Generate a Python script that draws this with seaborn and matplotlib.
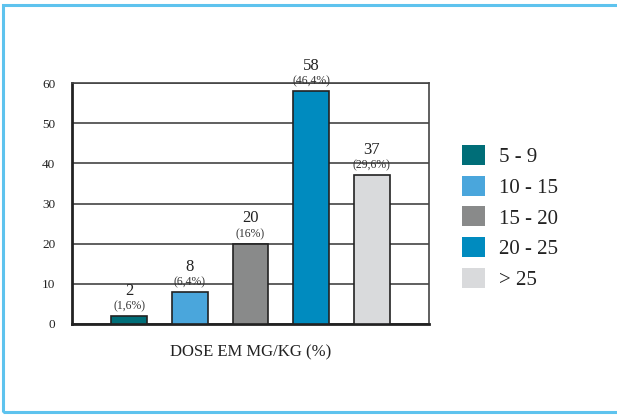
import matplotlib.pyplot as plt
import matplotlib.patches as mpatches
import pandas as pd
import seaborn as sns

categories = ["5 - 9", "10 - 15", "15 - 20", "20 - 25", "> 25"]
counts = [2, 8, 20, 58, 37]
percents = ["(1,6%)", "(6,4%)", "(16%)", "(46,4%)", "(29,6%)"]
colors = ["#006e78", "#4aa6dc", "#898a8a", "#008bbf", "#d9dadc"]

sns.set_theme(style="white")
plt.rcParams["font.family"] = ["Liberation Serif", "DejaVu Serif"]

df = pd.DataFrame({"dose": categories, "n": counts})

fig = plt.figure(figsize=(6.17, 4.18), dpi=100)
ax = fig.add_axes([72/617, 1-324/418, 357/617, 241/418])

sns.barplot(data=df, x="dose", y="n", hue="dose", palette=colors, width=0.59,
            saturation=1, edgecolor="#222222", linewidth=1.2, legend=False,
            ax=ax, zorder=3)

ax.set_xlim(-0.94, 4.94)
ax.set_ylim(0, 60)
ax.set_yticks(range(0, 61, 10))
ax.set_xticks([])
ax.set_xlabel("DOSE EM MG/KG (%)", fontsize=12, color="#222222", labelpad=15)
ax.set_ylabel("")
ax.tick_params(axis="y", labelsize=9.5, colors="#222222", length=0, pad=12)
ax.yaxis.grid(True, color="#444444", linewidth=1.2, zorder=0)
for side in ["left", "bottom"]:
    ax.spines[side].set_color("#222222")
    ax.spines[side].set_linewidth(2)
for side in ["top", "right"]:
    ax.spines[side].set_color("#444444")
    ax.spines[side].set_linewidth(1.2)

for i, (n, p) in enumerate(zip(counts, percents)):
    ax.text(i, n + 0.9, p, ha="center", va="bottom", fontsize=8.5, color="#333333", zorder=5)
    ax.text(i, n + 4.3, str(n), ha="center", va="bottom", fontsize=12, color="#222222", zorder=5)

handles = [mpatches.Patch(facecolor=c, edgecolor="none") for c in colors]
fig.legend(handles, categories, loc="upper left", bbox_to_anchor=(443/617, 1-126/418),
           frameon=False, fontsize=15, handlelength=1.1, handleheight=1.1,
           labelspacing=0.42, handletextpad=0.7, labelcolor="#222222")

border = mpatches.Rectangle((3/617, 6/418), 1.2, 1-11/418, transform=fig.transFigure,
                            fill=False, edgecolor="#5ec3ee", linewidth=2.2)
fig.add_artist(border)

fig.savefig("out.png", dpi=100)
